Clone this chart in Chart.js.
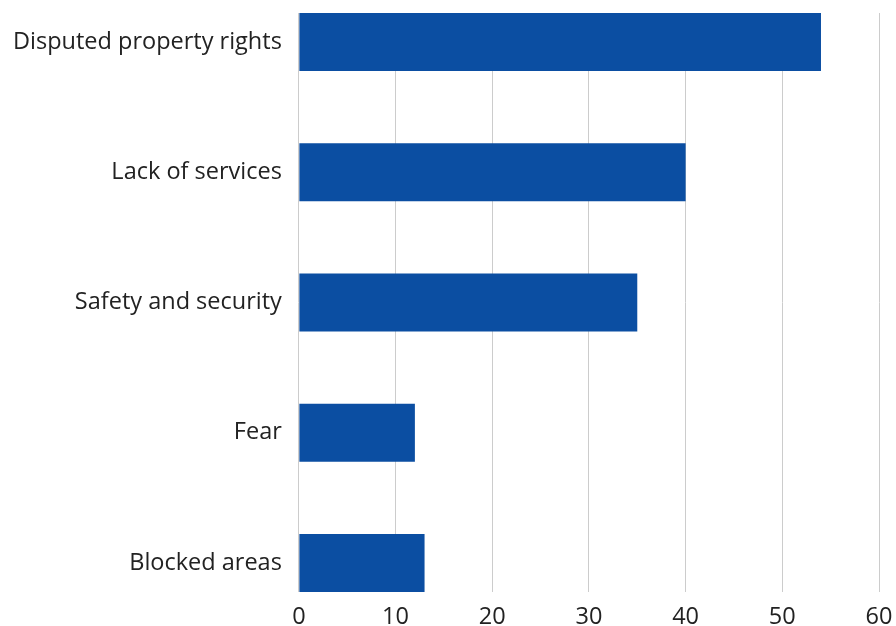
<!DOCTYPE html>
<html>
<head>
<meta charset="utf-8">
<script src="https://cdn.jsdelivr.net/npm/chart.js@4.4.1/dist/chart.umd.min.js"></script>
<style>
  html, body { margin: 0; padding: 0; background: #ffffff; }
  #wrap { width: 896px; height: 626px; position: relative; }
</style>
</head>
<body>
<div id="wrap"><canvas id="c"></canvas></div>
<script>
const categories = ["Disputed property rights", "Lack of services", "Safety and security", "Fear", "Blocked areas"];
const values = [54, 40, 35, 12, 13];
const xTicks = [0, 10, 20, 30, 40, 50, 60];

const points = values.map((v, i) => ({ x: v, y: i }));
const half = 0.223;

new Chart(document.getElementById('c'), {
  type: 'bar',
  data: {
    datasets: [{
      data: points,
      backgroundColor: '#0b4ea2',
      borderWidth: 0,
      barPercentage: 0.445,
      categoryPercentage: 1.0
    }]
  },
  options: {
    indexAxis: 'y',
    responsive: true,
    maintainAspectRatio: false,
    animation: false,
    layout: { padding: { top: 13, right: 17, left: -4, bottom: 0 } },
    plugins: { legend: { display: false }, tooltip: { enabled: false } },
    scales: {
      x: {
        type: 'linear',
        min: xTicks[0],
        max: xTicks[xTicks.length - 1],
        afterBuildTicks: s => { s.ticks = xTicks.map(v => ({ value: v })); },
        afterFit: s => { s.paddingRight = 0; s.paddingLeft = 0; s.height = 34; },
        grid: { color: '#cccccc', lineWidth: 1, drawTicks: false },
        border: { display: false },
        ticks: { color: '#222222', font: { family: 'Open Sans', size: 23.5 }, padding: 11 }
      },
      y: {
        type: 'linear',
        reverse: true,
        offset: false,
        min: -half,
        max: categories.length - 1 + half,
        afterBuildTicks: s => { s.ticks = categories.map((c, i) => ({ value: i })); },
        afterFit: s => { s.paddingTop = 0; s.paddingBottom = 0; },
        grid: { display: false, drawTicks: false },
        border: { display: false },
        ticks: {
          color: '#222222',
          font: { family: 'Open Sans', size: 23.5 },
          padding: 17,
          autoSkip: false,
          callback: (v) => categories[v] !== undefined ? categories[v] : ''
        }
      }
    }
  }
});
</script>
</body>
</html>
